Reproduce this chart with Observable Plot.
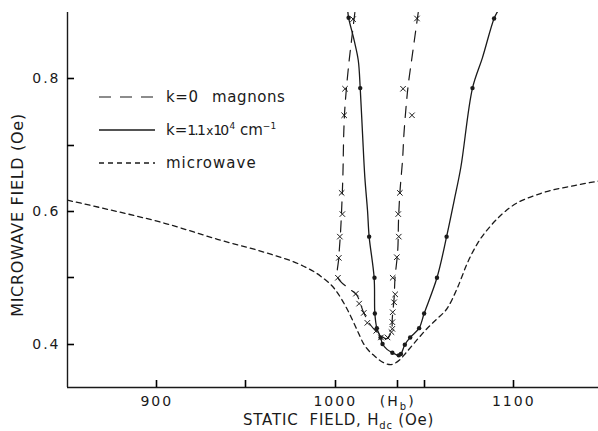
<!DOCTYPE html>
<html>
<head>
<meta charset="utf-8">
<script src="https://cdn.jsdelivr.net/npm/d3@7"></script>
<script src="https://cdn.jsdelivr.net/npm/@observablehq/plot@0.6"></script>
<style>
html, body { margin: 0; padding: 0; background: #fff; }
#wrap { position: relative; width: 598px; height: 431px; }
#wrap svg g[aria-label$="tick label"] text { letter-spacing: 2px; }
</style>
</head>
<body>
<div id="wrap"></div>
<script>
// ---- axis ticks ----
const xTicks = [900, 950, 1000, 1035, 1050, 1100];
const xTickLabels = ["900", "", "1000", "(Hb)", "", "1100"];
const yTicks = [0.4, 0.5, 0.6, 0.7, 0.8];
const yTickLabels = ["0.4", "", "0.6", "", "0.8"];
const xDomain = [850, 1147.5];
const yDomain = [0.3345, 0.9];

// ---- microwave (short dashes) ----
const mwField = [850, 868, 906, 934, 962, 981, 992, 1000, 1007, 1011.6, 1016, 1022, 1027, 1031, 1036, 1040, 1046, 1052, 1057, 1063, 1068.5, 1074, 1080, 1087, 1098, 1115, 1134, 1148];
const mwValue = [0.617, 0.606, 0.581, 0.558, 0.537, 0.519, 0.502, 0.482, 0.451, 0.425, 0.400, 0.382, 0.372, 0.369, 0.376, 0.388, 0.407, 0.425, 0.438, 0.455, 0.485, 0.522, 0.553, 0.578, 0.606, 0.627, 0.639, 0.646];

// ---- k=0 magnons (long dashes, x markers) ----
const k0LineField = [1011, 1009, 1007.5, 1005.5, 1004.8, 1004.3, 1003.7, 1003, 1002, 1001.5, 1007, 1012, 1016, 1020, 1025, 1029, 1031.5, 1032, 1033, 1033.5, 1035, 1035.5, 1036.3, 1037.7, 1038.5, 1040, 1041, 1043.3, 1046.5];
const k0LineValue = [0.900, 0.855, 0.820, 0.760, 0.720, 0.655, 0.610, 0.570, 0.530, 0.500, 0.485, 0.474, 0.447, 0.428, 0.414, 0.408, 0.420, 0.440, 0.470, 0.500, 0.540, 0.590, 0.631, 0.677, 0.717, 0.767, 0.793, 0.838, 0.900];
const k0PointField = [1010, 1005.5, 1005, 1003.6, 1004, 1002.6, 1002, 1001.5, 1011.6, 1013.4, 1016, 1018, 1023, 1025.6, 1029.3, 1031.5, 1032, 1032, 1032.2, 1033, 1033.6, 1032.2, 1034.5, 1035.6, 1035.3, 1036.2, 1038, 1043, 1045.8];
const k0PointValue = [0.890, 0.785, 0.745, 0.628, 0.596, 0.562, 0.530, 0.500, 0.476, 0.461, 0.447, 0.432, 0.420, 0.410, 0.410, 0.418, 0.423, 0.433, 0.448, 0.463, 0.475, 0.500, 0.531, 0.562, 0.596, 0.628, 0.785, 0.745, 0.891];

// ---- k=1.1e4 cm^-1 (solid, dots) ----
const kLineField = [1007, 1007.5, 1010.6, 1012.9, 1014, 1015.3, 1016.6, 1018.1, 1019, 1021.8, 1022.2, 1023.3, 1025.4, 1026.5, 1029, 1032, 1035.6, 1036.8, 1039, 1042, 1047, 1049.8, 1057, 1062.4, 1066.6, 1070.4, 1076.9, 1082.5, 1089, 1091.3];
const kLineValue = [0.903, 0.892, 0.858, 0.828, 0.786, 0.717, 0.651, 0.601, 0.562, 0.500, 0.446, 0.424, 0.410, 0.400, 0.392, 0.387, 0.383, 0.385, 0.399, 0.410, 0.424, 0.446, 0.500, 0.562, 0.616, 0.667, 0.786, 0.832, 0.891, 0.903];
const kPointField = [1007.5, 1014, 1019, 1022, 1022.2, 1023.3, 1025.4, 1026.5, 1032, 1035.6, 1036.8, 1039, 1042, 1047, 1049.8, 1057, 1062.4, 1076.9, 1089];
const kPointValue = [0.892, 0.786, 0.562, 0.500, 0.446, 0.424, 0.410, 0.400, 0.387, 0.383, 0.385, 0.399, 0.410, 0.424, 0.446, 0.500, 0.562, 0.786, 0.891];

const ink = "#1a1a1a";
const zip = (xs, ys) => xs.map((x, i) => ({x, y: ys[i]}));
const mw = zip(mwField, mwValue);
const k0Line = zip(k0LineField, k0LineValue);
const k0Pts = zip(k0PointField, k0PointValue);
const kLine = zip(kLineField, kLineValue);
const kPts = zip(kPointField, kPointValue);
const xLab = new Map(xTicks.map((t, i) => [t, xTickLabels[i]]));
const yLab = new Map(yTicks.map((t, i) => [t, yTickLabels[i]]));

const chart = Plot.plot({
  width: 598, height: 431,
  marginLeft: 67, marginRight: 0, marginTop: 12, marginBottom: 44,
  x: {domain: xDomain},
  y: {domain: yDomain},
  style: {fontFamily: "'DejaVu Sans', sans-serif", fontSize: "14px", color: ink, background: "#fff", overflow: "visible"},
  marks: [
    Plot.axisX({ticks: xTicks, tickSize: 0, tickPadding: 9, tickFormat: d => xLab.get(d), label: null}),
    Plot.axisY({ticks: yTicks, tickSize: 0, tickPadding: 7, tickFormat: d => yLab.get(d), label: null}),
    Plot.ruleX([xDomain[0]], {stroke: ink, strokeWidth: 1.4}),
    Plot.ruleY([yDomain[0]], {stroke: ink, strokeWidth: 1.4}),
    Plot.line(mw, {x: "x", y: "y", curve: "monotone-x", stroke: ink, strokeWidth: 1.3, strokeDasharray: "5,4", clip: true}),
    Plot.line(k0Line, {x: "x", y: "y", curve: "catmull-rom", stroke: ink, strokeWidth: 1.2, strokeDasharray: "11,8", clip: true}),
    Plot.line(kLine, {x: "x", y: "y", curve: "catmull-rom", stroke: ink, strokeWidth: 1.3, clip: true}),
    Plot.dot(k0Pts, {x: "x", y: "y", symbol: "times", r: 2.6, stroke: ink, strokeWidth: 1}),
    Plot.dot(kPts, {x: "x", y: "y", r: 2.2, fill: ink, stroke: "none"})
  ]
});
document.getElementById("wrap").appendChild(chart);

const svg = d3.select(chart);
const sx = chart.scale("x"), sy = chart.scale("y");

// inward tick marks, positioned through the chart's own scales
const tg = svg.append("g");
xTicks.forEach(t => {
  const px = Math.round(sx.apply(t)) + 0.5, py = sy.apply(yDomain[0]);
  tg.append("path").attr("d", `M${px},${py}V${py - 7}`)
    .attr("fill", "none").style("stroke", "#000").style("stroke-width", "1.6px");
});
yTicks.forEach(t => {
  const px = sx.apply(xDomain[0]), py = Math.round(sy.apply(t)) + 0.5;
  tg.append("path").attr("d", `M${px},${py}H${px + 7}`)
    .attr("fill", "none").style("stroke", "#000").style("stroke-width", "1.6px");
});

// subscript in (Hb) tick label
svg.selectAll("text").filter(function() { return this.textContent === "(Hb)"; })
  .each(function() {
    const t = d3.select(this).text("");
    t.append("tspan").text("(H");
    t.append("tspan").attr("font-size", 10).attr("dy", 4).text("b");
    t.append("tspan").attr("dy", -4).text(")");
  });

// axis titles
const titles = svg.append("g").attr("font-family", "'DejaVu Sans', sans-serif").attr("fill", ink).attr("font-size", 15).attr("text-anchor", "start");
const xt = titles.append("text").attr("x", 243).attr("y", 425).style("letter-spacing", "0.8px");
xt.append("tspan").text("STATIC  FIELD, H");
xt.append("tspan").attr("font-size", 10).attr("dy", 4).text("dc");
xt.append("tspan").attr("dy", -4).text(" (Oe)");
titles.append("text").attr("transform", "translate(23,215) rotate(-90)").attr("text-anchor", "middle")
  .attr("font-size", 16).style("letter-spacing", "0.7px").text("MICROWAVE FIELD (Oe)");

// legend
const lg = svg.append("g").attr("font-family", "'DejaVu Sans', sans-serif").attr("fill", ink).attr("font-size", 15).attr("text-anchor", "start");
const items = [
  {y: 97, dash: "12,9", w: 1.2},
  {y: 130, dash: null, w: 1.3},
  {y: 163, dash: "5,4", w: 1.3}
];
items.forEach(it => {
  lg.append("line").attr("x1", 99).attr("x2", 155).attr("y1", it.y).attr("y2", it.y)
    .attr("stroke", ink).attr("stroke-width", it.w).attr("stroke-dasharray", it.dash);
});
const t1 = lg.append("text").attr("x", 166).attr("y", 102).style("letter-spacing", "0.6px");
t1.append("tspan").text("k=0");
t1.append("tspan").attr("x", 212).text("magnons");
const t2 = lg.append("text").attr("x", 166).attr("y", 135);
t2.append("tspan").text("k=");
t2.append("tspan").attr("font-size", 14).style("letter-spacing", "-1.8px").text("1.1");
t2.append("tspan").attr("dx", 2).attr("font-size", 12).text("x");
t2.append("tspan").attr("font-size", 14).style("letter-spacing", "-1.8px").text("10");
t2.append("tspan").attr("font-size", 9).attr("dx", 2).attr("dy", -6).text("4");
t2.append("tspan").attr("dy", 6).text(" cm");
t2.append("tspan").attr("font-size", 9).attr("dy", -6).text("−1");
lg.append("text").attr("x", 166).attr("y", 168).style("letter-spacing", "1px").text("microwave");
</script>
</body>
</html>
